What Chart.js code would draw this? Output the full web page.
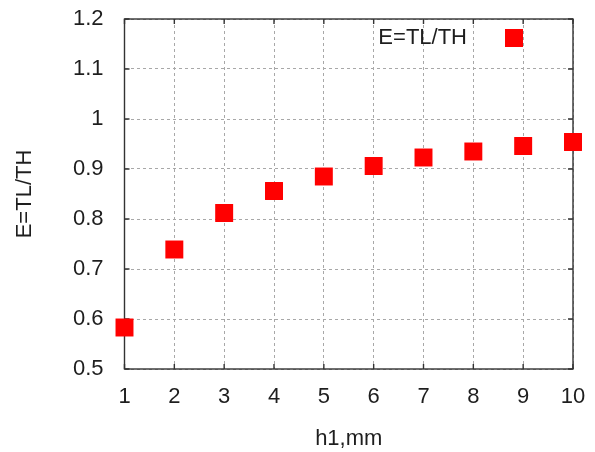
<!DOCTYPE html>
<html>
<head>
<meta charset="utf-8">
<script src="https://cdn.jsdelivr.net/npm/chart.js@4/dist/chart.umd.min.js"></script>
<style>
  html, body { margin: 0; padding: 0; background: #fff; }
  #wrap { width: 595px; height: 452px; }
</style>
</head>
<body>
<div id="wrap"><canvas id="effChart"></canvas></div>
<script>
// h1 in mm and the measured ratio E = TL/TH
const h1 = [1, 2, 3, 4, 5, 6, 7, 8, 9, 10];
const ratio = [0.583, 0.739, 0.812, 0.856, 0.885, 0.906, 0.923, 0.935, 0.946, 0.954];
const xTicks = [1, 2, 3, 4, 5, 6, 7, 8, 9, 10];
const yTicks = [0.5, 0.6, 0.7, 0.8, 0.9, 1, 1.1, 1.2];
const seriesLabel = 'E=TL/TH';

const FONT = 'Liberation Sans, Arial, sans-serif';
const FSIZE = 22;
const TEXT = '#1e1e1e';

// Box round the plot with small inward ticks on all four sides (gnuplot look)
const framePlugin = {
    id: 'frame',
    beforeDatasetsDraw(chart) {
        const { ctx, chartArea: a, scales } = chart;
        const len = 5;
        ctx.save();
        ctx.strokeStyle = '#333';
        ctx.lineWidth = 1.4;
        ctx.beginPath();
        xTicks.forEach(v => {
            const px = scales.x.getPixelForValue(v);
            ctx.moveTo(px, a.bottom); ctx.lineTo(px, a.bottom - len);
            ctx.moveTo(px, a.top); ctx.lineTo(px, a.top + len);
        });
        yTicks.forEach(v => {
            const py = scales.y.getPixelForValue(v);
            ctx.moveTo(a.left, py); ctx.lineTo(a.left + len, py);
            ctx.moveTo(a.right, py); ctx.lineTo(a.right - len, py);
        });
        ctx.stroke();
        ctx.strokeRect(a.left, a.top, a.right - a.left, a.bottom - a.top);
        ctx.restore();
    },
    afterDatasetsDraw(chart) {
        // key in the top right corner: label first, then the symbol
        const { ctx, chartArea: a } = chart;
        const ds = chart.data.datasets[0];
        const cy = a.top + 19;
        const sx = a.right - 59;
        const side = 18;
        ctx.save();
        ctx.fillStyle = TEXT;
        ctx.font = FSIZE + 'px ' + FONT;
        ctx.textAlign = 'right';
        ctx.textBaseline = 'middle';
        ctx.fillText(ds.label, a.right - 106, cy);
        ctx.fillStyle = ds.backgroundColor;
        ctx.fillRect(sx - side / 2, cy - side / 2, side, side);
        ctx.restore();
    }
};

const ctx = document.getElementById('effChart').getContext('2d');

new Chart(ctx, {
    type: 'scatter',
    data: {
        datasets: [{
            label: seriesLabel,
            data: h1.map((x, i) => ({ x: x, y: ratio[i] })),
            backgroundColor: '#ff0000',
            borderWidth: 0,
            pointStyle: 'rect',
            pointRadius: 12.7,
            pointHoverRadius: 12.7,
            clip: false
        }]
    },
    options: {
        responsive: true,
        maintainAspectRatio: false,
        animation: false,
        layout: {
            padding: { top: 19, right: 22, left: 0, bottom: 0 }
        },
        plugins: {
            legend: { display: false },
            tooltip: { enabled: false }
        },
        scales: {
            x: {
                type: 'linear',
                min: 1,
                max: 10,
                afterBuildTicks: scale => {
                    scale.ticks = xTicks.map(v => ({ value: v }));
                },
                afterFit: scale => {
                    scale.height = 83;
                    scale.paddingLeft = 0;
                    scale.paddingRight = 0;
                },
                grid: { color: '#a8a8a8', lineWidth: 1, drawTicks: false },
                border: { display: false, dash: [3, 3] },
                ticks: {
                    color: TEXT,
                    font: { family: FONT, size: FSIZE },
                    padding: 15,
                    maxRotation: 0,
                    callback: v => String(v)
                },
                title: {
                    display: true,
                    text: 'h1,mm',
                    color: TEXT,
                    font: { family: FONT, size: FSIZE },
                    padding: { top: 2, bottom: 0 }
                }
            },
            y: {
                type: 'linear',
                min: 0.5,
                max: 1.2,
                afterBuildTicks: scale => {
                    scale.ticks = yTicks.map(v => ({ value: v }));
                },
                afterFit: scale => {
                    scale.width = 124.5;
                    scale.paddingTop = 0;
                    scale.paddingBottom = 0;
                },
                grid: { color: '#a8a8a8', lineWidth: 1, drawTicks: false },
                border: { display: false, dash: [3, 3] },
                ticks: {
                    color: TEXT,
                    font: { family: FONT, size: FSIZE },
                    padding: 21,
                    callback: v => String(Number(v.toFixed(1)))
                },
                title: {
                    display: true,
                    text: 'E=TL/TH',
                    color: TEXT,
                    font: { family: FONT, size: FSIZE },
                    padding: { top: 12, bottom: 0 }
                }
            }
        }
    },
    plugins: [framePlugin]
});
</script>
</body>
</html>
